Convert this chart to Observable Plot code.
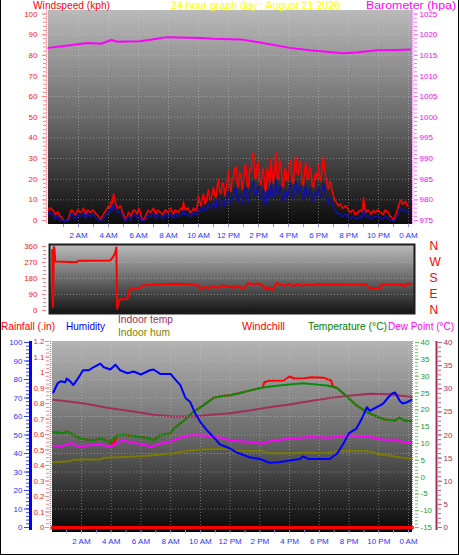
<!DOCTYPE html>
<html><head><meta charset="utf-8">
<script src="https://cdn.jsdelivr.net/npm/d3@7"></script>
<script src="https://cdn.jsdelivr.net/npm/@observablehq/plot@0.6"></script>
<style>
body{margin:0;background:#fff}
#chart{position:relative;width:459px;height:555px;overflow:hidden;background:#fff}
#chart svg{position:absolute;left:0;overflow:visible}
#border{position:absolute;left:0;top:0;width:459px;height:555px;box-sizing:border-box;border:1px solid #000;border-top:0;pointer-events:none}
</style></head>
<body><div id="chart"><div id="border"></div></div>
<script>
// ================= DATA =================
const hourTicks  = [2,4,6,8,10,12,14,16,18,20,22,24];
const hourLabels = ["2 AM","4 AM","6 AM","8 AM","10 AM","12 PM","2 PM","4 PM","6 PM","8 PM","10 PM","0 AM"];

// Wind (kph), 5-minute samples from 0:00 to 24:00 (one row per hour)
const windGust = [
 5,6,6,5,5,3,3,4,4,2,2,1,
 0,0,0,0,1,3,5,5,4,3,3,5,
 5,4,4,5,6,4,3,5,5,4,4,5,
 5,4,3,3,2,1,1,2,3,4,5,6,
 7,6,9,8,13,10,8,6,6,7,7,4,
 3,1,0,2,4,3,2,4,5,5,4,3,
 6,5,2,1,0,1,3,4,5,4,4,5,
 6,4,3,5,5,4,4,3,3,5,5,4,
 4,5,6,4,3,5,5,4,4,5,6,5,
 9,6,5,6,6,4,4,5,6,5,5,7,
 12,9,7,11,13,8,9,12,15,10,10,13,
 16,12,11,17,20,14,13,18,18,12,15,19,
 24,17,14,20,21,25,26,18,16,23,22,15,
 19,26,27,17,16,25,24,31,33,21,20,27,
 28,20,17,24,25,15,14,26,23,17,30,22,
 18,25,33,21,20,29,27,17,16,25,24,19,
 21,28,29,19,18,27,31,23,22,29,26,18,
 17,25,28,21,20,26,24,17,16,22,23,20,
 27,21,19,26,31,24,21,17,15,19,18,14,
 12,10,9,8,7,8,8,6,6,7,7,6,
 5,4,4,5,5,3,3,4,4,5,5,4,
 11,6,4,5,5,4,3,4,5,4,4,5,
 5,4,4,3,3,5,5,4,4,2,2,1,
 0,2,3,5,7,9,10,8,8,9,9,7,
 7];
const windAvg = [
 3,4,4,3,3,1,1,2,2,0,0,0,
 0,0,0,0,0,1,3,3,2,1,1,3,
 3,2,2,3,4,2,1,3,3,2,2,3,
 3,2,1,1,0,0,0,0,1,2,3,3,
 4,4,6,5,8,6,5,4,4,4,4,2,
 1,0,0,1,2,1,0,2,3,3,2,1,
 3,2,0,0,0,0,1,2,3,2,2,3,
 3,2,1,3,3,2,2,1,1,3,3,2,
 2,3,3,2,1,3,3,2,2,3,3,3,
 5,3,3,3,3,2,2,3,4,3,3,4,
 6,5,4,6,7,5,5,6,8,6,6,7,
 9,7,6,10,11,8,7,10,10,7,8,11,
 14,10,8,11,12,15,16,10,9,13,13,8,
 11,15,16,10,9,14,14,18,19,12,12,15,
 17,12,10,14,15,8,8,15,14,10,18,13,
 11,15,20,13,12,17,16,10,9,14,14,11,
 13,17,18,11,11,16,19,14,13,17,16,11,
 10,15,17,12,12,15,15,10,9,13,14,12,
 16,12,11,15,18,14,12,10,8,11,10,8,
 6,5,4,4,3,3,3,2,2,3,3,2,
 2,1,1,2,2,1,1,1,1,2,2,1,
 5,3,2,2,2,1,1,1,2,2,2,2,
 2,1,1,1,1,2,2,1,1,0,0,0,
 0,0,1,2,3,5,6,5,5,5,5,4,
 4];
const windTicks = [0,10,20,30,40,50,60,70,80,90,100];

// Barometer (hPa): [hour, value]
const barometer = [[0,1016.8],[1.3,1017.4],[2.6,1018.0],[3.5,1017.8],[4.2,1018.7],[4.6,1018.3],[6.1,1018.4],
 [7,1018.9],[7.9,1019.4],[10.1,1019.2],[11,1019.0],[12.1,1018.9],[12.9,1018.8],[14.3,1018.0],[16.1,1016.8],
 [17.4,1016.2],[18.7,1015.8],[19.6,1015.5],[20.5,1015.7],[21.9,1016.2],[23.2,1016.3],[24.1,1016.4]];
const baroTicks = [975,980,985,990,995,1000,1005,1010,1015,1020,1025];

// Wind direction (degrees): [hour, value]
const windDir = [[0.25,340],[0.3,20],[0.36,358],[0.4,345],[0.45,276],[1.9,272],[2.0,280],[4.1,281],[4.3,300],
 [4.45,325],[4.52,355],[4.58,10],[4.65,40],[4.75,62],[5.25,64],[5.4,115],[5.6,126],[6.1,128],[6.3,140],[7.3,148],
 [8.5,150],[9.5,146],[10.0,140],[10.15,120],[10.4,135],[10.7,124],[11.0,138],[11.3,126],[11.6,140],[12.0,135],
 [12.3,128],[12.6,138],[12.9,124],[13.1,130],[13.3,155],[13.6,148],[14.0,152],[14.3,140],[14.5,118],[14.7,130],
 [14.9,115],[15.2,155],[15.4,148],[15.7,140],[16.0,150],[16.3,138],[16.6,148],[16.9,140],[17.2,146],[17.6,142],
 [18.0,148],[18.5,146],[19.2,147],[20.0,146],[21.2,146],[21.4,126],[22.1,126],[22.2,146],[23.6,146],[23.7,132],
 [23.85,150],[24.2,150]];
const dirTicks = [0,90,180,270,360];
const dirLabels = ["N","E","S","W","N"];

// Bottom panel: [hour, value]
const humidity = [[0.1,73],[0.4,78],[0.6,79],[0.9,78.5],[1.0,80.5],[1.25,79],[1.45,77],[1.8,81],[2.1,85],[2.5,85],
 [2.8,86.6],[3.27,88.6],[3.5,86.6],[3.94,85.4],[4.28,88],[4.6,85],[5.1,83.4],[5.5,84.3],[6.0,82.7],[6.6,85],
 [6.85,85.4],[7.3,83],[8.0,83],[8.2,81],[8.65,77],[9.0,70],[9.3,68],[9.66,61.6],[10.0,57],[10.5,52],[11.1,47],
 [11.3,45],[12.0,42.7],[12.4,40.7],[13.3,38],[14.0,37],[14.65,35],[15.3,35.3],[16.0,36.2],[16.7,37],[16.9,38.4],
 [17.3,37],[18.0,37],[18.7,37],[19.2,40],[19.6,45],[20.0,51],[20.5,53.5],[20.9,59.5],[21.2,65],[21.4,63],
 [21.85,65],[22.3,67],[22.6,70],[22.9,72.4],[23.1,73],[23.4,68.6],[23.6,67],[23.9,67.7],[24.2,69]];
const temperature = [[0.1,13.3],[0.8,13.0],[1.0,13.6],[1.4,12.65],[1.9,11.5],[2.8,10.9],[3.3,11.5],[3.9,10.4],
 [4.4,12.4],[4.8,12.6],[6.0,11.9],[6.6,11.4],[6.85,10.9],[7.3,12.4],[8.0,13],[8.2,14.4],[8.9,16.8],[9.5,19.3],
 [10.2,21.3],[10.9,23.6],[11.6,24.2],[12.0,24.3],[12.6,24.9],[13.3,25.7],[14.2,26.6],[15.3,27.2],[16.0,27.5],
 [16.9,27.9],[17.8,27.5],[18.5,27.2],[19.2,26.5],[19.8,24.2],[20.5,21.3],[21.2,19.3],[21.85,18],[22.5,17],
 [23.1,16.8],[23.4,17.7],[23.7,16.8],[24.2,16.6]];
const windchill = [[0.1,13.3],[0.8,13.0],[1.0,13.6],[1.4,12.65],[1.9,11.5],[2.8,10.9],[3.3,11.5],[3.9,10.4],
 [4.1,9.6],[4.2,10.5],[4.4,12.4],[4.8,12.6],[6.0,11.9],[6.6,11.4],[6.85,10.9],[7.3,12.4],[8.0,13],[8.2,14.4],
 [8.9,16.8],[9.5,19.3],[10.2,21.3],[10.9,23.6],[11.6,24.2],[12.0,24.3],[12.6,24.9],[13.3,25.7],[14.2,26.6],
 [14.3,28.2],[14.6,28.6],[15.6,28.7],[16.0,29.9],[16.3,29.3],[17.0,29.4],[17.5,29.7],[18.3,29.5],[18.8,28.7],
 [18.9,27.0],[19.2,26.5],[19.8,24.2],[20.5,21.3],[21.2,19.3],[21.85,18],[22.5,17],[23.1,16.8],[23.4,17.7],
 [23.7,16.8],[24.2,16.6]];
const dewPoint = [[0.1,9.4],[0.6,9.1],[1.0,9.7],[1.4,10.1],[1.7,9.1],[2.4,9.4],[3.3,9.7],[3.9,8.9],[4.4,10.1],
 [4.8,10.9],[5.5,10.1],[6.2,9.7],[6.6,8.9],[7.3,9.9],[8.0,10.6],[8.65,11.7],[9.3,12.4],[10.0,12.4],[10.7,12.1],
 [11.35,11.7],[12.0,10.9],[13.3,10.4],[14.2,9.9],[14.85,10.9],[16.0,11.4],[17.3,11.9],[18.7,11.7],[20.0,12.4],
 [21.4,11.9],[22.3,11.1],[23.2,11.1],[23.6,10.4],[24.2,10.1]];
const indoorTemp = [[0.1,27.6],[1.0,27.3],[2.4,26.7],[3.7,25.9],[5.5,25.1],[6.85,24.4],[8.2,24.0],[9.5,24.0],
 [10.7,24.4],[12.0,24.7],[13.3,25.3],[14.4,25.9],[16.0,26.6],[17.3,27.3],[18.7,28.0],[20.0,28.5],[21.4,28.9],
 [22.7,28.8],[24.2,28.2]];
const indoorHum = [[0.1,35.3],[1.2,35.8],[1.45,36.6],[3.3,36.9],[3.5,37.7],[4.6,38.0],[5.5,38.4],[6.4,38.8],
 [7.3,39.5],[8.2,40.2],[9.1,41.3],[10.0,42.2],[10.9,42.5],[12.0,42.5],[12.05,41.6],[13.3,41.3],[14.2,41.3],
 [14.65,40.2],[16.5,40.2],[17.1,40.7],[18.2,40.2],[19.4,41.3],[21.2,41.3],[21.6,40.7],[22.1,39.5],[22.7,38.9],
 [23.4,38.0],[24.2,37.1]];
const rainfall = [[0,0],[24.27,0]];
const humTicks = [0,10,20,30,40,50,60,70,80,90,100];
const rainTicks = [0,0.1,0.2,0.3,0.4,0.5,0.6,0.7,0.8,0.9,1,1.1,1.2];
const rainLabels = ["0","0.1","0.2","0.3","0.4","0.5","0.6","0.7","0.8","0.9","1","1.1","1.2"];
const tempTicks = [-15,-10,-5,0,5,10,15,20,25,30,35,40];
const inTempTicks = [0,5,10,15,20,25,30,35,40];

// ================= HELPERS =================
const NS = "http://www.w3.org/2000/svg";
const chart = document.getElementById("chart");
const FONT = '"Liberation Sans", Arial, sans-serif';
const fmtHour = d => hourLabels[hourTicks.indexOf(d)];
const plain = d => String(d);
let gid = 0;

function addPlot(top, opts) {
  const svg = Plot.plot(Object.assign({width: 459,
    style: {background: "none", fontFamily: FONT, fontSize: "8px", overflow: "visible"}}, opts));
  svg.style.position = "absolute"; svg.style.left = "0px"; svg.style.top = top + "px";
  chart.insertBefore(svg, document.getElementById("border"));
}
function bg(c0, c1) {
  return (index, scales, values, d) => {
    const id = "grad" + (gid++);
    const g = document.createElementNS(NS, "g");
    g.innerHTML = `<defs><linearGradient id="${id}" x1="0" y1="0" x2="0" y2="1">
      <stop offset="0" stop-color="${c0}"/><stop offset="0.5" stop-color="#6a6a6a"/><stop offset="1" stop-color="${c1}"/></linearGradient></defs>
      <rect x="${d.marginLeft}" y="${d.marginTop}" width="${d.width - d.marginLeft - d.marginRight}"
      height="${d.height - d.marginTop - d.marginBottom}" fill="url(#${id})"/>`;
    return g;
  };
}
function vline(side, off, color, w, dash) {
  return (index, scales, values, d) => {
    const x = side === "left" ? d.marginLeft + off : d.width - d.marginRight + off;
    const l = document.createElementNS(NS, "line");
    l.setAttribute("x1", x); l.setAttribute("x2", x);
    l.setAttribute("y1", d.marginTop); l.setAttribute("y2", d.height - d.marginBottom);
    l.setAttribute("stroke", color); l.setAttribute("stroke-width", w);
    if (dash) l.setAttribute("stroke-dasharray", dash);
    return l;
  };
}
function hline(off, color, w) {
  return (index, scales, values, d) => {
    const y = d.height - d.marginBottom + off;
    const l = document.createElementNS(NS, "line");
    l.setAttribute("x1", d.marginLeft); l.setAttribute("x2", d.width - d.marginRight);
    l.setAttribute("y1", y); l.setAttribute("y2", y);
    l.setAttribute("stroke", color); l.setAttribute("stroke-width", w);
    return l;
  };
}
const grid = {stroke: "#d0d0d0", strokeOpacity: 0.45, strokeDasharray: "1,2"};
const X = d => d[0], Y = d => d[1];

// ================= PANEL 1 : wind + barometer =================
const windRows = windGust.map((g, i) => ({h: i / 12, gust: g, avg: windAvg[i]}));
const P1 = {height: 250, marginTop: 10, marginBottom: 26, marginLeft: 48, marginRight: 47};
const x1 = {domain: [0, 24.27], axis: null};
addPlot(0, {...P1, x: x1, y: {domain: [-1.94, 101.69], axis: null}, marks: [
  bg("#bababa", "#0c0c0c"),
  Plot.gridY(windTicks.slice(1, -1), grid),
  Plot.gridX(hourTicks, grid),
  Plot.line(windRows, {x: "h", y: "gust", stroke: "#ff0000", strokeWidth: 1.5}),
  Plot.line(windRows, {x: "h", y: "avg", stroke: "#12129e", strokeWidth: 1.5}),
  vline("left", -1.5, "#ff8080", 1, "1,1"),
  Plot.axisY(d3.range(0, 101, 2), {anchor: "left", dx: -2, tickSize: 3, tickFormat: () => "", stroke: "#ff8080", label: null}),
  Plot.axisY(windTicks, {anchor: "left", dx: -2, tickSize: 4, tickPadding: 5, tickFormat: plain, stroke: "#ff8080", fill: "#ff2020", label: null, fontSize: 8}),
  Plot.axisX(d3.range(1, 25), {anchor: "bottom", tickSize: 3, tickFormat: () => "", stroke: "#9090ff", label: null}),
  Plot.axisX(hourTicks, {anchor: "bottom", tickSize: 0, tickPadding: 8, tickFormat: fmtHour, fill: "#3030ff", label: null, fontSize: 8})
]});
addPlot(0, {...P1, x: x1, y: {domain: [974.03, 1025.85], axis: null}, marks: [
  Plot.line(barometer, {x: X, y: Y, stroke: "#ff00ff", strokeWidth: 2}),
  vline("right", 0.5, "#ff80ff", 1, "1,1"),
  Plot.axisY(d3.range(975, 1026, 1), {anchor: "right", dx: 1, tickSize: 3, tickFormat: () => "", stroke: "#ff70ff", label: null}),
  Plot.axisY(baroTicks, {anchor: "right", dx: 1, tickSize: 4, tickPadding: 2, tickFormat: plain, stroke: "#ff70ff", fill: "#ff00ff", label: null, fontSize: 8})
]});

// ================= PANEL 2 : wind direction =================
addPlot(235, {height: 85, marginTop: 9, marginBottom: 7, marginLeft: 49, marginRight: 45,
  x: {domain: [0.067, 24.4], axis: null}, y: {domain: [-16.9, 371.25], axis: null}, marks: [
  bg("#bdbdbd", "#141414"),
  Plot.gridY([90, 180, 270], grid),
  Plot.line(windDir, {x: X, y: Y, stroke: "#ff0000", strokeWidth: 2}),
  Plot.frame({stroke: "#1c1c1c", strokeWidth: 2}),
  Plot.axisY(d3.range(0, 361, 22.5), {anchor: "left", dx: -3, tickSize: 3, tickFormat: () => "", stroke: "#ff8080", label: null}),
  Plot.axisY(dirTicks, {anchor: "left", dx: -3, tickSize: 4, tickPadding: 5, tickFormat: plain, stroke: "#ff8080", fill: "#ff2020", label: null, fontSize: 8}),
  Plot.axisY(dirTicks, {anchor: "right", tickSize: 0, tickPadding: 15, tickFormat: d => dirLabels[dirTicks.indexOf(d)], fill: "#ff0000", label: null, fontSize: 12})
]});

// ================= PANEL 3 : humidity / temperatures / rain =================
const P3 = {height: 217, marginTop: 3, marginBottom: 25, marginLeft: 52, marginRight: 47};
const x3 = {domain: [0.05, 24.27], axis: null};
addPlot(338, {...P3, x: x3, y: {domain: [-0.0194, 1.2], axis: null}, marks: [
  bg("#b4b4b4", "#0a0a0a"),
  Plot.gridX(hourTicks, grid),
  Plot.line(rainfall, {x: X, y: Y, stroke: "#ff0000", strokeWidth: 3}),
  hline(1, "#000", 2),
  vline("left", -1.5, "#ff6060", 1.5, "1,1"),
  Plot.axisY(d3.range(0, 1.201, 0.025), {anchor: "left", dx: -3, tickSize: 3, tickFormat: () => "", stroke: "#ff8080", label: null}),
  Plot.axisY(rainTicks, {anchor: "left", dx: -3, tickSize: 4, tickPadding: 1, stroke: "#ff8080", fill: "#ff2020", label: null, fontSize: 8,
    tickFormat: d => rainLabels[rainTicks.indexOf(d)]}),
  Plot.axisX(d3.range(1, 25), {anchor: "bottom", tickSize: 3, tickFormat: () => "", stroke: "#9090ff", label: null}),
  Plot.axisX(hourTicks, {anchor: "bottom", tickSize: 0, tickPadding: 8, tickFormat: fmtHour, fill: "#3030ff", label: null, fontSize: 8})
]});
addPlot(338, {...P3, x: x3, y: {domain: [-0.65, 40.22], axis: null}, marks: [
  Plot.line(indoorTemp, {x: X, y: Y, stroke: "#a0305a", strokeWidth: 2}),
  vline("right", 24.5, "#a0305a", 2),
  Plot.axisY(d3.range(0, 41, 1), {anchor: "right", dx: 25, tickSize: 3, tickFormat: () => "", stroke: "#c06080", label: null}),
  Plot.axisY(inTempTicks, {anchor: "right", dx: 25, tickSize: 4, tickPadding: 2, tickFormat: plain, stroke: "#c06080", fill: "#a0305a", label: null, fontSize: 8})
]});
addPlot(338, {...P3, x: x3, y: {domain: [-15.89, 40.3], axis: null}, marks: [
  Plot.line(windchill, {x: X, y: Y, stroke: "#ff0000", strokeWidth: 2}),
  Plot.line(temperature, {x: X, y: Y, stroke: "#0a8a0a", strokeWidth: 2}),
  Plot.line(dewPoint, {x: X, y: Y, stroke: "#ff00ff", strokeWidth: 2}),
  vline("right", 0.5, "#60b060", 1, "1,1"),
  Plot.axisY(d3.range(-15, 41, 1), {anchor: "right", dx: 2, tickSize: 3, tickFormat: () => "", stroke: "#70c070", label: null}),
  Plot.axisY(tempTicks, {anchor: "right", dx: 2, tickSize: 4, tickPadding: 2, tickFormat: plain, stroke: "#70c070", fill: "#1a9a1a", label: null, fontSize: 8})
]});
addPlot(338, {...P3, x: x3, y: {domain: [-1.62, 100.54], axis: null}, marks: [
  Plot.gridY(humTicks.slice(1, -1), grid),
  Plot.line(indoorHum, {x: X, y: Y, stroke: "#7a7a00", strokeWidth: 2}),
  Plot.line(humidity, {x: X, y: Y, stroke: "#0000ff", strokeWidth: 2}),
  vline("left", -21.5, "#0000ff", 3),
  Plot.axisY(d3.range(0, 101, 2), {anchor: "left", dx: -23, tickSize: 3, tickFormat: () => "", stroke: "#4040ff", label: null}),
  Plot.axisY(humTicks, {anchor: "left", dx: -23, tickSize: 5, tickPadding: 2, tickFormat: plain, stroke: "#4040ff", fill: "#3030ff", label: null, fontSize: 8})
]});

// ================= TITLES =================
// [text, x, baseline y, colour, width, size]
const titles = [
  ["Windspeed (kph)", 33, 9, "#ff0000", 77, 10.5],
  ["24 hour graph day : August 21 2026", 171, 9, "#ffff00", 169, 10.5],
  ["Barometer (hpa)", 366, 8.5, "#ff00ff", 90, 10],
  ["Rainfall (.in)", 1, 330, "#ff0000", 54, 11],
  ["Humidity", 66, 330, "#0000ff", 39, 11],
  ["Indoor temp", 118, 323, "#a0305a", 55, 11],
  ["Indoor hum", 118, 336, "#808000", 52, 11],
  ["Windchill", 242, 330, "#ff0000", 43, 11],
  ["Temperature (°C)", 308, 330, "#008000", 79, 10],
  ["Dew Point (°C)", 388, 330, "#ff00ff", 66, 10]
];
const tsvg = d3.create("svg").attr("width", 459).attr("height", 555)
  .style("top", "0px").style("pointer-events", "none");
tsvg.selectAll("text").data(titles).join("text")
  .attr("x", d => d[1]).attr("y", d => d[2]).attr("fill", d => d[3])
  .attr("textLength", d => d[4]).attr("lengthAdjust", "spacingAndGlyphs")
  .attr("font-family", FONT).attr("font-size", d => d[5]).text(d => d[0]);
chart.insertBefore(tsvg.node(), document.getElementById("border"));
</script>
</body></html>
